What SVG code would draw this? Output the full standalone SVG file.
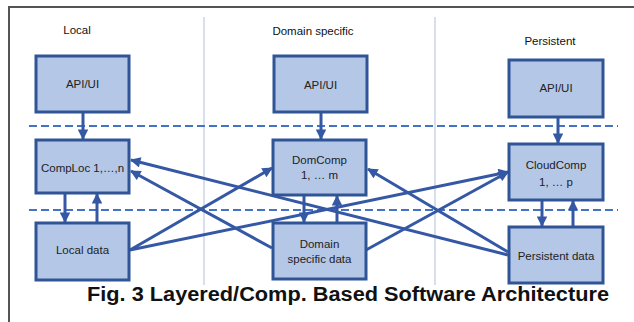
<svg xmlns="http://www.w3.org/2000/svg" width="634" height="322" viewBox="0 0 634 322">
<style>
.box{fill:#B4C7E7;stroke:#2F5597;stroke-width:3}
.t{font-family:"Liberation Sans",Arial,sans-serif;font-size:11.5px;fill:#222;text-anchor:middle}
.h{font-family:"Liberation Sans",Arial,sans-serif;font-size:11.5px;fill:#111;text-anchor:middle}
.c{stroke:#3558A5;stroke-width:3;fill:none;marker-end:url(#ah)}
.dash{stroke:#4472C4;stroke-width:2;stroke-dasharray:8 4;fill:none}
.sep{stroke:#CAD5E8;stroke-width:1.5}
</style>
<defs>
<marker id="ah" viewBox="0 0 10 10" refX="9" refY="5" markerWidth="3.8" markerHeight="3.5" orient="auto" markerUnits="strokeWidth">
<path d="M0,0 L10,5 L0,10 z" fill="#3558A5"/>
</marker>
</defs>
<rect width="634" height="322" fill="#fff"/>
<path d="M9,322 V7 H634" fill="none" stroke="#555" stroke-width="2"/>
<line class="sep" x1="204" y1="17" x2="204" y2="285"/>
<line class="sep" x1="435" y1="17" x2="435" y2="285"/>
<line class="dash" x1="29" y1="126" x2="618" y2="126"/>
<line class="dash" x1="29" y1="210" x2="618" y2="210"/>
<text class="h" x="77" y="34">Local</text>
<text class="h" x="313" y="35">Domain specific</text>
<text class="h" x="550" y="45">Persistent</text>
<g id="connectors">
<line class="c" x1="83" y1="112" x2="83" y2="139"/>
<line class="c" x1="65" y1="193" x2="65" y2="222"/>
<line class="c" x1="97" y1="223" x2="97" y2="194"/>
<line class="c" x1="321" y1="112" x2="321" y2="139"/>
<line class="c" x1="304" y1="195" x2="304" y2="222"/>
<line class="c" x1="337" y1="223" x2="337" y2="196"/>
<line class="c" x1="558" y1="117" x2="558" y2="143"/>
<line class="c" x1="542" y1="200" x2="542" y2="226"/>
<line class="c" x1="573" y1="227" x2="573" y2="201"/>
<line class="c" x1="130" y1="250" x2="272" y2="168"/>
<line class="c" x1="130" y1="250" x2="508" y2="172"/>
<line class="c" x1="272" y1="248" x2="131" y2="171"/>
<line class="c" x1="366" y1="250" x2="508" y2="172"/>
<line class="c" x1="508" y1="255" x2="131" y2="160"/>
<line class="c" x1="508" y1="252" x2="368" y2="169"/>
</g>
<g id="api-local"><rect class="box" x="36" y="56" width="93" height="56"/><text class="t" x="82.5" y="88">API/UI</text></g>
<g id="comploc"><rect class="box" x="36" y="140" width="93" height="53"/><text class="t" x="82.5" y="172">CompLoc 1,…,n</text></g>
<g id="local-data"><rect class="box" x="36" y="223" width="93" height="57"/><text class="t" x="82.5" y="254">Local data</text></g>
<g id="api-domain"><rect class="box" x="274" y="56" width="93" height="56"/><text class="t" x="320.5" y="89">API/UI</text></g>
<g id="domcomp"><rect class="box" x="273" y="140" width="93" height="55"/><text class="t" x="319.5" y="164">DomComp</text><text class="t" x="319.5" y="179">1, … m</text></g>
<g id="domain-data"><rect class="box" x="273" y="223" width="93" height="56"/><text class="t" x="319.5" y="248">Domain</text><text class="t" x="319.5" y="263">specific data</text></g>
<g id="api-persistent"><rect class="box" x="509" y="60" width="94" height="57"/><text class="t" x="556" y="92">API/UI</text></g>
<g id="cloudcomp"><rect class="box" x="509" y="144" width="94" height="56"/><text class="t" x="556" y="169">CloudComp</text><text class="t" x="556" y="186">1, … p</text></g>
<g id="persistent-data"><rect class="box" x="509" y="227" width="94" height="56"/><text class="t" x="556" y="260">Persistent data</text></g>
<text x="348" y="301" font-family="Liberation Sans,Arial,sans-serif" font-weight="bold" font-size="20" text-anchor="middle" textLength="522" lengthAdjust="spacingAndGlyphs" fill="#111">Fig. 3 Layered/Comp. Based Software Architecture</text>
</svg>
